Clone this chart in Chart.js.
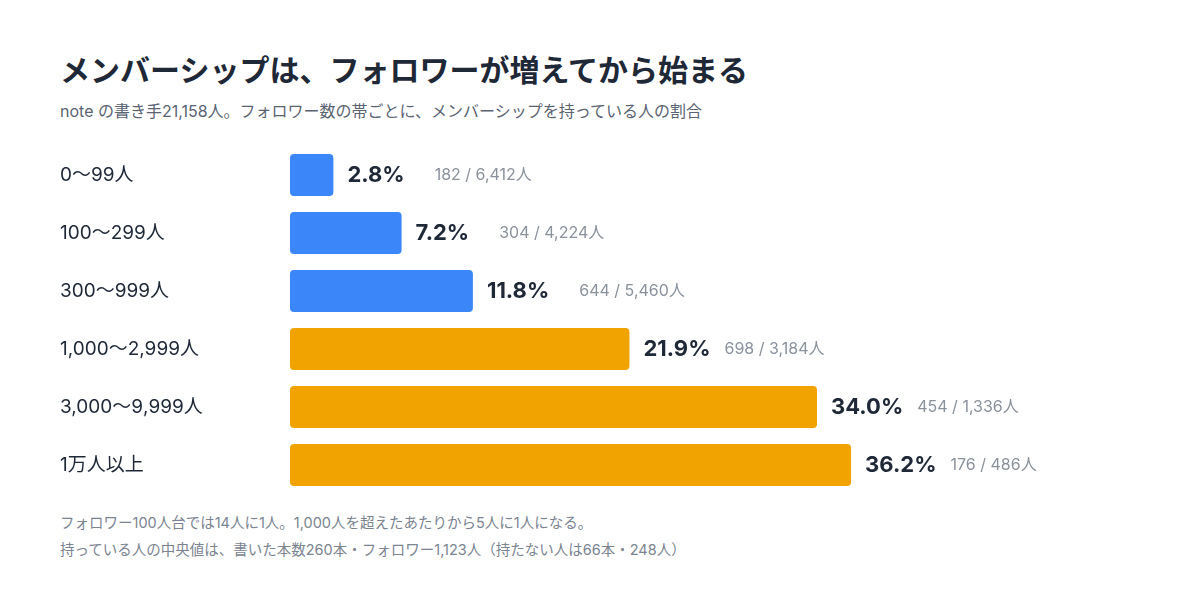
<!DOCTYPE html>
<html><head><meta charset="utf-8">
<script src="https://cdn.jsdelivr.net/npm/chart.js@4"></script>
<style>
body{margin:0;width:1200px;height:596px;background:#fff;font-family:Inter,"Noto Sans CJK JP",sans-serif;position:relative;overflow:hidden}
#t{position:absolute;left:60px;top:46px;font-size:30px;font-weight:700;color:#1e2836}
#s{position:absolute;left:60px;top:98px;font-size:16px;color:#5b6472}
#f{position:absolute;left:60px;top:509px;font-size:14.5px;color:#7b8491;line-height:27px}
canvas{position:absolute;left:0;top:0}
</style></head><body>
<div id="t">メンバーシップは、フォロワーが増えてから始まる</div>
<div id="s">note の書き手21,158人。フォロワー数の帯ごとに、メンバーシップを持っている人の割合</div>
<div id="f">フォロワー100人台では14人に1人。1,000人を超えたあたりから5人に1人になる。<br>持っている人の中央値は、書いた本数260本・フォロワー1,123人（持たない人は66本・248人）</div>
<canvas id="c" width="1200" height="596"></canvas>
<script>
const categories=["0〜99人","100〜299人","300〜999人","1,000〜2,999人","3,000〜9,999人","1万人以上"];
const shares=[2.8,7.2,11.8,21.9,34.0,36.2];
const holders=["182","304","644","698","454","176"];
const totals=["6,412","4,224","5,460","3,184","1,336","486"];
const colors=shares.map((v,i)=>i<3?"#3b86f8":"#f0a301");
const F='Inter, "Noto Sans CJK JP"';
const labelPlugin={id:"lbl",afterDatasetsDraw(ch){
 const ctx=ch.ctx,meta=ch.getDatasetMeta(0);
 ctx.save();ctx.textBaseline="middle";
 meta.data.forEach((b,i)=>{
  ctx.fillStyle="#1e2836";ctx.font='19px '+F;ctx.textAlign="left";
  ctx.fillText(categories[i],60,b.y);
  ctx.font='bold 22px '+F;
  const t=shares[i].toFixed(1)+"%";const x=b.x+14;
  ctx.fillText(t,x,b.y);
  const w=ctx.measureText(t).width;
  ctx.font='16px '+F;ctx.fillStyle="#8a929c";
  ctx.fillText(holders[i]+" / "+totals[i]+"人",x+w+(i<3?30:14),b.y);
 });ctx.restore();}};
new Chart(document.getElementById("c"),{type:"bar",
 data:{labels:categories,datasets:[{data:shares,backgroundColor:colors,borderRadius:4,borderSkipped:false,categoryPercentage:0.72,barPercentage:1}]},
 options:{indexAxis:"y",responsive:false,animation:false,
  layout:{padding:{left:290,right:135,top:146,bottom:102}},
  plugins:{legend:{display:false},tooltip:{enabled:false}},
  scales:{x:{display:false,min:0,max:50},y:{display:false}}},
 plugins:[labelPlugin]});
</script></body></html>
